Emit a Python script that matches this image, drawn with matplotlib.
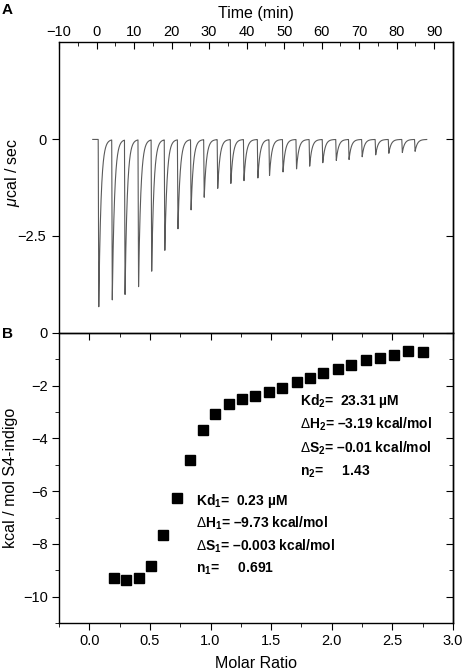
import numpy as np
import matplotlib
matplotlib.use("Agg")
import matplotlib.pyplot as plt
from matplotlib.ticker import MultipleLocator, FormatStrFormatter

plt.rcParams['font.family'] = ['Liberation Sans', 'DejaVu Sans']
plt.rcParams['mathtext.fontset'] = 'custom'
plt.rcParams['mathtext.rm'] = 'Liberation Sans'
plt.rcParams['mathtext.it'] = 'Liberation Sans:italic'
plt.rcParams['mathtext.bf'] = 'Liberation Sans:bold'
plt.rcParams['axes.linewidth'] = 1.0

# panel A: injection times (min) and peak heights (ucal/sec)
inj_time = [0.6, 4.2, 7.6, 11.2, 14.7, 18.2, 21.7, 25.2, 28.7, 32.3, 35.8, 39.3, 43.0,
            46.1, 49.7, 53.3, 56.8, 60.3, 63.9, 67.3, 70.8, 74.4, 77.9, 81.5, 84.9]
inj_peak = [-4.36, -4.17, -4.04, -3.84, -3.44, -2.90, -2.34, -1.84, -1.50, -1.27, -1.14, -1.07, -1.00,
            -0.94, -0.85, -0.77, -0.70, -0.61, -0.55, -0.52, -0.45, -0.40, -0.36, -0.34, -0.31]

# panel B: integrated heats
molar_ratio = [0.20, 0.30, 0.41, 0.51, 0.61, 0.72, 0.83, 0.94, 1.04, 1.15, 1.26, 1.37, 1.48,
               1.59, 1.71, 1.82, 1.93, 2.05, 2.16, 2.28, 2.40, 2.51, 2.63, 2.75]
heat = [-9.29, -9.35, -9.29, -8.82, -7.68, -6.25, -4.80, -3.69, -3.09, -2.70, -2.51, -2.38, -2.23,
        -2.07, -1.87, -1.70, -1.51, -1.38, -1.22, -1.03, -0.94, -0.84, -0.68, -0.72]

site2 = ["Kd$_{\\mathbf{2}}$=  23.31 µM", "$\\Delta$H$_{\\mathbf{2}}$= –3.19 kcal/mol",
         "$\\Delta$S$_{\\mathbf{2}}$= –0.01 kcal/mol", "n$_{\\mathbf{2}}$=     1.43"]
site1 = ["Kd$_{\\mathbf{1}}$=  0.23 µM", "$\\Delta$H$_{\\mathbf{1}}$= –9.73 kcal/mol",
         "$\\Delta$S$_{\\mathbf{1}}$= –0.003 kcal/mol", "n$_{\\mathbf{1}}$=     0.691"]

fig = plt.figure(figsize=(4.64, 6.72), dpi=100)
L, W = 59 / 464, 394 / 464
axA = fig.add_axes([L, 1 - 332 / 672, W, 290 / 672])
axB = fig.add_axes([L, 1 - 623 / 672, W, 290 / 672])

# raw thermogram drawn from the peaks
t = np.linspace(-1.0, 88.0, 9000)
sig = np.zeros_like(t)
for t0, h in zip(inj_time, inj_peak):
    r = (t >= t0 - 0.15) & (t < t0)
    sig[r] += h * (t[r] - (t0 - 0.15)) / 0.15
    a = t >= t0
    sig[a] += h * np.exp(-(t[a] - t0) / 0.6)
axA.plot(t, sig, color='#5a5a5a', lw=0.8)

axA.set_xlim(-10, 95)
axA.set_ylim(-5.0, 2.53)
axA.spines['bottom'].set_visible(False)
axA.xaxis.tick_top()
axA.xaxis.set_label_position('top')
axA.xaxis.set_major_locator(MultipleLocator(10))
axA.xaxis.set_minor_locator(MultipleLocator(5))
axA.tick_params(axis='x', which='major', direction='in', length=5, labelsize=10.5, pad=2)
axA.tick_params(axis='x', which='minor', direction='in', length=3)
axA.set_yticks([0, -2.5])
axA.set_yticklabels(['0', '−2.5'])
axA.tick_params(axis='y', direction='out', length=5, labelsize=10.5, pad=4)
axA.set_xlabel('Time (min)', fontsize=11.5, labelpad=5)
axA.set_ylabel('$\\mu$cal / sec', fontsize=11.5)
axA.yaxis.set_label_coords(-0.095, 0.55)
secA = axA.secondary_yaxis('right')
secA.set_yticks([0, -2.5])
secA.tick_params(direction='in', length=5, labelright=False)

axB.plot(molar_ratio, heat, 's', color='black', ms=7)
axB.set_xlim(-0.25, 3.0)
axB.set_ylim(-11, 0)
axB.xaxis.set_major_locator(MultipleLocator(0.5))
axB.xaxis.set_minor_locator(MultipleLocator(0.25))
axB.xaxis.set_major_formatter(FormatStrFormatter('%.1f'))
axB.yaxis.set_major_locator(MultipleLocator(2))
axB.yaxis.set_minor_locator(MultipleLocator(1))
axB.tick_params(which='major', direction='out', length=5, labelsize=10.5, pad=3)
axB.tick_params(which='minor', direction='out', length=3)
axB.set_xlabel('Molar Ratio', fontsize=11.5, labelpad=6)
axB.set_ylabel('kcal / mol S4-indigo', fontsize=11.5)
axB.yaxis.set_label_coords(-0.105, 0.5)

secBx = axB.secondary_xaxis('top')
secBx.xaxis.set_major_locator(MultipleLocator(0.5))
secBx.xaxis.set_minor_locator(MultipleLocator(0.25))
secBx.tick_params(which='major', direction='in', length=5, labeltop=False)
secBx.tick_params(which='minor', direction='in', length=3)
secBy = axB.secondary_yaxis('right')
secBy.yaxis.set_major_locator(MultipleLocator(2))
secBy.yaxis.set_minor_locator(MultipleLocator(1))
secBy.tick_params(which='major', direction='in', length=5, labelright=False)
secBy.tick_params(which='minor', direction='in', length=3)

for i, s in enumerate(site2):
    axB.text(0.612, 0.766 - i * 0.0815, s, transform=axB.transAxes, fontsize=10,
             fontweight='bold', va='center', ha='left')
for i, s in enumerate(site1):
    axB.text(0.348, 0.421 - i * 0.078, s, transform=axB.transAxes, fontsize=10,
             fontweight='bold', va='center', ha='left')

fig.text(0.004, 1 - 3 / 672, 'A', fontsize=11, fontweight='bold', va='top', ha='left')
fig.text(0.004, 1 - 327 / 672, 'B', fontsize=11, fontweight='bold', va='top', ha='left')

fig.savefig('out.png', dpi=100)
